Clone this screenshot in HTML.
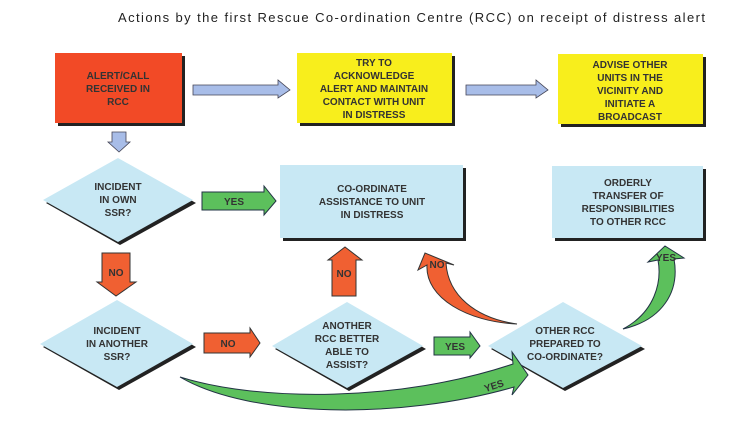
<!DOCTYPE html>
<html><head><meta charset="utf-8"><style>
html,body{margin:0;padding:0;background:#fff;}
svg{display:block;}
text{font-family:"Liberation Sans",sans-serif;}
.b{font-weight:bold;font-size:10px;fill:#333;text-anchor:middle;}
</style></head><body>
<svg width="740" height="437" viewBox="0 0 740 437">
<rect width="740" height="437" fill="#fff"/>
<text x="118" y="22" font-size="13" fill="#222" textLength="587">Actions by the first Rescue Co-ordination Centre (RCC) on receipt of distress alert</text>

<rect x="58" y="56" width="127" height="70" fill="#222"/>
<rect x="55" y="53" width="127" height="70" fill="#f24a26"/>
<text class="b" x="118" y="79">ALERT/CALL</text>
<text class="b" x="118" y="92">RECEIVED IN</text>
<text class="b" x="118" y="105">RCC</text>

<rect x="300" y="56" width="155" height="70" fill="#222"/>
<rect x="297" y="53" width="155" height="70" fill="#f8ee1c"/>
<text class="b" x="374" y="66">TRY TO</text>
<text class="b" x="374" y="79">ACKNOWLEDGE</text>
<text class="b" x="374" y="92">ALERT AND MAINTAIN</text>
<text class="b" x="374" y="105">CONTACT WITH UNIT</text>
<text class="b" x="374" y="118">IN DISTRESS</text>

<rect x="561" y="57" width="145" height="70" fill="#222"/>
<rect x="558" y="54" width="145" height="70" fill="#f8ee1c"/>
<text class="b" x="630" y="68">ADVISE OTHER</text>
<text class="b" x="630" y="81">UNITS IN THE</text>
<text class="b" x="630" y="94">VICINITY AND</text>
<text class="b" x="630" y="107">INITIATE A</text>
<text class="b" x="630" y="120">BROADCAST</text>

<polygon points="193,85 278,85 278,80 290,90 278,98 278,95 193,95" fill="#a8bde8" stroke="#445" stroke-width="0.8"/>
<polygon points="466,85 536,85 536,80 548,90 536,98 536,95 466,95" fill="#a8bde8" stroke="#445" stroke-width="0.8"/>
<polygon points="112,132 126,132 126,142 130,142 119,152 108,142 112,142" fill="#a8bde8" stroke="#445" stroke-width="0.8"/>

<polygon points="120,161 196,203 120,245 46,203" fill="#222"/>
<polygon points="118,158 193,200 118,242 43,200" fill="#c8e8f4"/>
<text class="b" x="118" y="190">INCIDENT</text>
<text class="b" x="118" y="203">IN OWN</text>
<text class="b" x="118" y="216">SSR?</text>

<polygon points="202,192 264,192 264,186 276,201 264,215 264,210 202,210" fill="#5cc05c" stroke="#234" stroke-width="1"/>
<text class="b" x="234" y="205">YES</text>

<rect x="283" y="168" width="183" height="73" fill="#222"/>
<rect x="280" y="165" width="183" height="73" fill="#c8e8f4"/>
<text class="b" x="372" y="192">CO-ORDINATE</text>
<text class="b" x="372" y="205">ASSISTANCE TO UNIT</text>
<text class="b" x="372" y="218">IN DISTRESS</text>

<rect x="555" y="169" width="151" height="72" fill="#222"/>
<rect x="552" y="166" width="151" height="72" fill="#c8e8f4"/>
<text class="b" x="628" y="186">ORDERLY</text>
<text class="b" x="628" y="199">TRANSFER OF</text>
<text class="b" x="628" y="212">RESPONSIBILITIES</text>
<text class="b" x="628" y="225">TO OTHER RCC</text>

<polygon points="102,253 130,253 130,282 136,282 116,296 97,282 102,282" fill="#f06032" stroke="#333" stroke-width="1"/>
<text class="b" x="116" y="276">NO</text>

<polygon points="119,303 196,347 119,390 43,347" fill="#222"/>
<polygon points="117,300 193,344 117,387 40,344" fill="#c8e8f4"/>
<text class="b" x="117" y="334">INCIDENT</text>
<text class="b" x="117" y="347">IN ANOTHER</text>
<text class="b" x="117" y="360">SSR?</text>

<polygon points="204,333 250,333 250,328 260,343 250,357 250,353 204,353" fill="#f06032" stroke="#333" stroke-width="1"/>
<text class="b" x="228" y="347">NO</text>

<polygon points="332,296 356,296 356,260 362,260 345,247 328,260 332,260" fill="#f06032" stroke="#333" stroke-width="1"/>
<text class="b" x="344" y="277">NO</text>

<polygon points="349,305 426,349 349,391 275,349" fill="#222"/>
<polygon points="347,302 423,346 347,388 272,346" fill="#c8e8f4"/>
<text class="b" x="347" y="329">ANOTHER</text>
<text class="b" x="347" y="342">RCC BETTER</text>
<text class="b" x="347" y="355">ABLE TO</text>
<text class="b" x="347" y="368">ASSIST?</text>

<polygon points="434,337 470,337 470,332 480,346 470,358 470,355 434,355" fill="#5cc05c" stroke="#234" stroke-width="1"/>
<text class="b" x="455" y="350">YES</text>

<polygon points="565,305 645,349 565,391 491,349" fill="#222"/>
<polygon points="563,302 642,346 563,388 488,346" fill="#c8e8f4"/>
<text class="b" x="565" y="334">OTHER RCC</text>
<text class="b" x="565" y="347">PREPARED TO</text>
<text class="b" x="565" y="360">CO-ORDINATE?</text>

<path d="M517,324 C475,318 448,295 446,263 L454,265 L425,253 L418,270 L427,265 C425,298 468,322 517,324 Z" fill="#f06032" stroke="#333" stroke-width="1"/>
<text class="b" x="437" y="268" font-size="9">NO</text>

<path d="M623,329 C655,312 662,282 658,260 L648,262 L665,246 L684,258 L674,259 C680,292 662,320 623,329 Z" fill="#5cc05c" stroke="#234" stroke-width="1"/>
<text class="b" x="666" y="261" font-size="9">YES</text>

<path d="M180,377 C260,402 400,402 513,364 L512,352 L528,375 L512,395 L514,387 C400,420 250,418 180,377 Z" fill="#5cc05c" stroke="#234" stroke-width="1"/>
<text class="b" x="495" y="389" font-size="9" transform="rotate(-18 495 389)">YES</text>
</svg>
</body></html>
